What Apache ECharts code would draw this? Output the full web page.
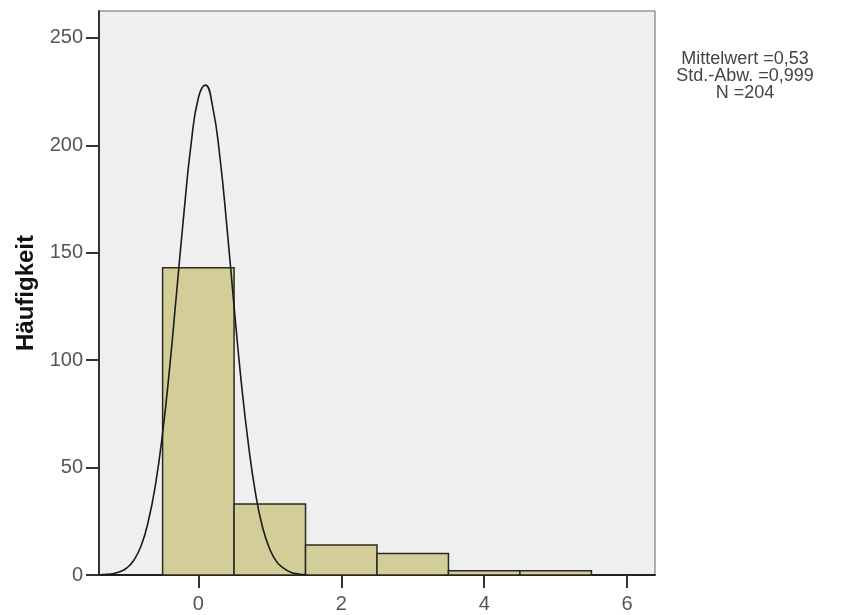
<!DOCTYPE html>
<html>
<head>
<meta charset="utf-8">
<script src="https://cdn.jsdelivr.net/npm/echarts@6/dist/echarts.min.js"></script>
<style>
  html, body { margin: 0; padding: 0; background: #fff; }
  #chart { width: 847px; height: 615px; }
</style>
</head>
<body>
<div id="chart"></div>
<script>
// Klassen (Balkenanfang, Balkenende) und Häufigkeiten
var binStart = [-0.5, 0.5, 1.5, 2.5, 3.5, 4.5];
var binEnd = [0.5, 1.5, 2.5, 3.5, 4.5, 5.5];
var counts = [143, 33, 14, 10, 2, 2];

// Normalverteilungskurve
var curveX = [-1.37, -1.3, -1.2, -1.1, -1.0, -0.9, -0.8, -0.7, -0.6, -0.5, -0.4, -0.3, -0.2, -0.1,
  0.0, 0.1, 0.2, 0.3, 0.4, 0.5, 0.6, 0.7, 0.8, 0.9, 1.0, 1.1, 1.2, 1.3, 1.4, 1.5];
var curveY = [0.1, 0.3, 0.6, 1.5, 3.3, 7, 13.6, 25, 42, 66, 97, 133, 169, 201,
  222, 228, 218, 195, 162, 125, 90, 61, 38, 22, 12, 6, 3, 1.2, 0.5, 0.2];

var xTicks = [0, 2, 4, 6];
var yTicks = [0, 50, 100, 150, 200, 250];
var statsLines = ['Mittelwert =0,53', 'Std.-Abw. =0,999', 'N =204'];

var histData = [];
for (var i = 0; i < counts.length; i++) {
  histData.push([binStart[i], binEnd[i], counts[i]]);
}
var curveData = [];
for (var j = 0; j < curveX.length; j++) {
  curveData.push([curveX[j], curveY[j]]);
}

var mychart = echarts.init(document.getElementById('chart'));
var option = {
  animation: false,
  grid: {
    left: 99, top: 11, right: 192, bottom: 40,
    show: true,
    backgroundColor: '#efefef',
    borderColor: '#666',
    borderWidth: 1
  },
  xAxis: {
    type: 'value',
    min: -1.39,
    max: 6.39,
    splitLine: { show: false },
    axisLine: { onZero: false, lineStyle: { color: '#222', width: 2 } },
    axisTick: { show: true, length: 13, customValues: xTicks, lineStyle: { color: '#333', width: 2 } },
    axisLabel: {
      customValues: xTicks,
      color: '#555',
      fontSize: 20,
      fontFamily: 'Liberation Sans, Arial, sans-serif',
      margin: 19
    }
  },
  yAxis: {
    type: 'value',
    min: 0,
    max: 262.5,
    name: 'Häufigkeit',
    nameLocation: 'middle',
    nameRotate: 90,
    nameGap: 58,
    nameTextStyle: {
      color: '#111',
      fontSize: 24,
      fontWeight: 'bold',
      fontFamily: 'Liberation Sans, Arial, sans-serif'
    },
    splitLine: { show: false },
    axisLine: { onZero: false, lineStyle: { color: '#333', width: 2 } },
    axisTick: { show: true, length: 13, customValues: yTicks, lineStyle: { color: '#333', width: 2 } },
    axisLabel: {
      customValues: yTicks,
      color: '#555',
      fontSize: 20,
      fontFamily: 'Liberation Sans, Arial, sans-serif',
      margin: 16
    }
  },
  graphic: [{
    type: 'text',
    x: 745,
    y: 51,
    style: {
      text: statsLines.join('\n'),
      align: 'center',
      textAlign: 'center',
      fill: '#444',
      fontSize: 18,
      lineHeight: 17,
      fontFamily: 'Liberation Sans, Arial, sans-serif'
    }
  }],
  series: [
    {
      type: 'custom',
      data: histData,
      renderItem: function (params, api) {
        var p0 = api.coord([api.value(0), 0]);
        var p1 = api.coord([api.value(1), api.value(2)]);
        return {
          type: 'rect',
          shape: { x: p0[0], y: p1[1], width: p1[0] - p0[0], height: p0[1] - p1[1] },
          style: { fill: '#d3ce97', stroke: '#2a2a22', lineWidth: 1.5 }
        };
      },
      encode: { x: [0, 1], y: 2 },
      z: 2
    },
    {
      type: 'line',
      data: curveData,
      smooth: true,
      showSymbol: false,
      lineStyle: { color: '#1a1a1a', width: 1.6 },
      z: 3
    }
  ]
};
mychart.setOption(option);
</script>
</body>
</html>
